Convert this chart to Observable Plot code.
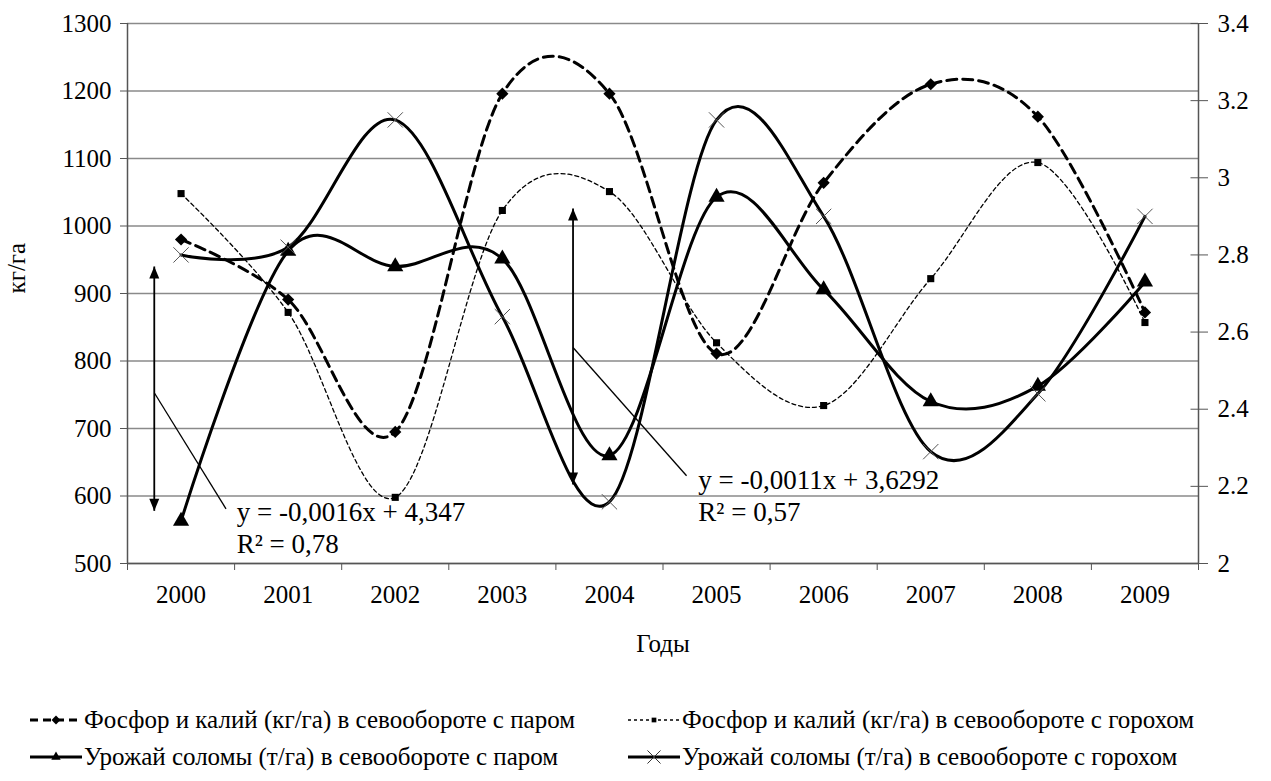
<!DOCTYPE html>
<html><head><meta charset="utf-8">
<script src="https://cdn.jsdelivr.net/npm/d3@7"></script>
<script src="https://cdn.jsdelivr.net/npm/@observablehq/plot@0.6"></script>
<style>
body{margin:0;background:#fff;font-family:'Liberation Serif','DejaVu Serif',serif;}
#legend{position:relative;height:111px;width:1271px;font-size:25px;color:#000;}
.item{position:absolute;display:flex;align-items:center;white-space:nowrap;height:30px;}
.item svg{margin-right:2px;}
</style></head><body>
<div id="chart"></div><div id="legend"></div>
<script>
const years=[2000,2001,2002,2003,2004,2005,2006,2007,2008,2009];
const pkFallow=[980,891,695,1196,1196,811,1064,1210,1162,872];
const pkPea=[1048,872,598,1023,1051,827,734,922,1094,857];
const strawFallow=[2.11,2.81,2.77,2.79,2.28,2.95,2.71,2.42,2.46,2.73];
const strawPea=[2.80,2.82,3.15,2.64,2.16,3.15,2.90,2.29,2.44,2.90];
const leftTicks=[500,600,700,800,900,1000,1100,1200,1300];
const rightTicks=[2,2.2,2.4,2.6,2.8,3,3.2,3.4];
const seriesNames=[
 "Фосфор и калий (кг/га) в севообороте с паром",
 "Фосфор и калий (кг/га) в севообороте с горохом",
 "Урожай соломы (т/га) в севообороте с паром",
 "Урожай соломы (т/га) в севообороте с горохом"];
const yLabel="кг/га";
const xLabel="Годы";
// annotation positions (data units: year, кг/га)
const trendArrows=[{x:1999.75,y1:940,y2:578},{x:2003.66,y1:1026,y2:617}];
const trendLeaders=[{x1:1999.75,y1:753,x2:2000.42,y2:581},{x1:2003.66,y1:820,x2:2004.72,y2:630}];
const trendTexts=[
 {x:2000.52,y:576,text:"y = -0,0016x + 4,347"},
 {x:2000.52,y:528,text:"R² = 0,78"},
 {x:2004.83,y:623,text:"y = -0,0011x + 3,6292"},
 {x:2004.83,y:576,text:"R² = 0,57"}];

const L0=500,L1=1300,R0=2,R1=3.4;
const conv=v=>L0+(v-R0)*(L1-L0)/(R1-R0);
const inv=d=>R0+(d-L0)*(R1-R0)/(L1-L0);

const s1=years.map((x,i)=>({x,y:pkFallow[i]}));
const s2=years.map((x,i)=>({x,y:pkPea[i]}));
const s3=years.map((x,i)=>({x,y:conv(strawFallow[i])}));
const s4=years.map((x,i)=>({x,y:conv(strawPea[i])}));
const bounds=d3.range(1999.5,2010,1);

// arrowhead symbols (tip at origin)
const headUp={draw(c,size){const h=12,w=5;c.moveTo(0,0);c.lineTo(w,h);c.lineTo(-w,h);c.closePath();}};
const headDown={draw(c,size){const h=12,w=5;c.moveTo(0,0);c.lineTo(w,-h);c.lineTo(-w,-h);c.closePath();}};

const font="'Liberation Serif','DejaVu Serif',serif";
const chart=Plot.plot({
 width:1271,height:670,
 marginTop:23,marginBottom:107,marginLeft:127,marginRight:73,
 style:{fontFamily:font,fontSize:"25px",color:"#000",background:"#fff"},
 x:{domain:[1999.5,2009.5]},
 y:{domain:[L0,L1]},
 marks:[
  Plot.ruleY(leftTicks,{stroke:"#8a8a8a",strokeWidth:1.5}),
  Plot.ruleX([1999.5,2009.5],{stroke:"#555",strokeWidth:1.5}),
  Plot.ruleY([500],{stroke:"#555",strokeWidth:1.5}),
  Plot.axisY(leftTicks,{anchor:"left",tickSize:7,tickPadding:9,stroke:"#555",label:null,fontSize:25,tickFormat:d=>String(d)}),
  Plot.axisY(rightTicks.map(conv),{anchor:"right",tickSize:9,tickPadding:10,stroke:"#555",label:null,fontSize:25,tickFormat:d=>String(+inv(d).toFixed(1))}),
  Plot.ruleY(rightTicks.map(conv),{x1:2009.43,x2:2009.5,stroke:"#555",strokeWidth:1}),
  Plot.axisX(bounds,{anchor:"bottom",tickSize:7,stroke:"#555",tickFormat:()=>"",label:null}),
  Plot.axisX(years,{anchor:"bottom",tickSize:0,tickPadding:22,fontSize:25,tickFormat:d=>String(d),label:null}),
  Plot.text([xLabel],{frameAnchor:"bottom",dy:88,fontSize:25}),
  Plot.text([yLabel],{frameAnchor:"left",dx:-111,rotate:-90,fontSize:25}),
  // series
  Plot.line(s2,{x:"x",y:"y",curve:"cardinal",stroke:"#000",strokeWidth:1.3,strokeDasharray:"4,3"}),
  Plot.line(s1,{x:"x",y:"y",curve:"cardinal",stroke:"#000",strokeWidth:3,strokeDasharray:"10,6"}),
  Plot.line(s3,{x:"x",y:"y",curve:"cardinal",stroke:"#000",strokeWidth:3}),
  Plot.line(s4,{x:"x",y:"y",curve:"cardinal",stroke:"#000",strokeWidth:3}),
  Plot.dot(s1,{x:"x",y:"y",symbol:"diamond2",r:5.5,fill:"#000"}),
  Plot.dot(s2,{x:"x",y:"y",symbol:"square",r:4,fill:"#000"}),
  Plot.dot(s3,{x:"x",y:"y",symbol:"triangle",r:6,fill:"#000"}),
  Plot.dot(s4,{x:"x",y:"y",symbol:"times",r:7,stroke:"#555",strokeWidth:1}),
  // trend annotations
  Plot.link(trendArrows,{x1:"x",x2:"x",y1:"y1",y2:"y2",stroke:"#000",strokeWidth:1.8}),
  Plot.dot(trendArrows,{x:"x",y:"y1",symbol:headUp,fill:"#000",r:5}),
  Plot.dot(trendArrows,{x:"x",y:"y2",symbol:headDown,fill:"#000",r:5}),
  Plot.link(trendLeaders,{x1:"x1",y1:"y1",x2:"x2",y2:"y2",stroke:"#000",strokeWidth:1.3}),
  Plot.text(trendTexts,{x:"x",y:"y",text:"text",textAnchor:"start",lineAnchor:"middle",fontSize:27})
 ]
});
document.getElementById("chart").appendChild(chart);

// legend
const legend=d3.select("#legend");
const items=[
 {left:30,top:35,dash:"8,5",w:3,sym:"diamond2",r:4,name:seriesNames[0]},
 {left:628,top:35,dash:"3,3",w:1.5,sym:"square",r:3,name:seriesNames[1]},
 {left:30,top:72,dash:null,w:3,sym:"triangle",r:4.5,name:seriesNames[2]},
 {left:628,top:72,dash:null,w:3,sym:"times",r:6,name:seriesNames[3]}];
items.forEach(it=>{
 const div=legend.append("div").attr("class","item").style("left",it.left+"px").style("top",it.top+"px");
 const svg=div.append("svg").attr("width",52).attr("height",20);
 svg.append("line").attr("x1",0).attr("x2",52).attr("y1",10).attr("y2",10)
  .attr("stroke","#000").attr("stroke-width",it.w).attr("stroke-dasharray",it.dash);
 const path=d3.symbol(it.sym==="diamond2"?d3.symbolDiamond2:it.sym==="square"?d3.symbolSquare2:it.sym==="triangle"?d3.symbolTriangle2:d3.symbolTimes,Math.PI*it.r*it.r)();
 svg.append("path").attr("d",path).attr("transform","translate(26,10)")
  .attr("fill",it.sym==="times"?"none":"#000").attr("stroke",it.sym==="times"?"#333":"none").attr("stroke-width",1);
 div.append("span").text(it.name);
});
</script>
</body></html>
